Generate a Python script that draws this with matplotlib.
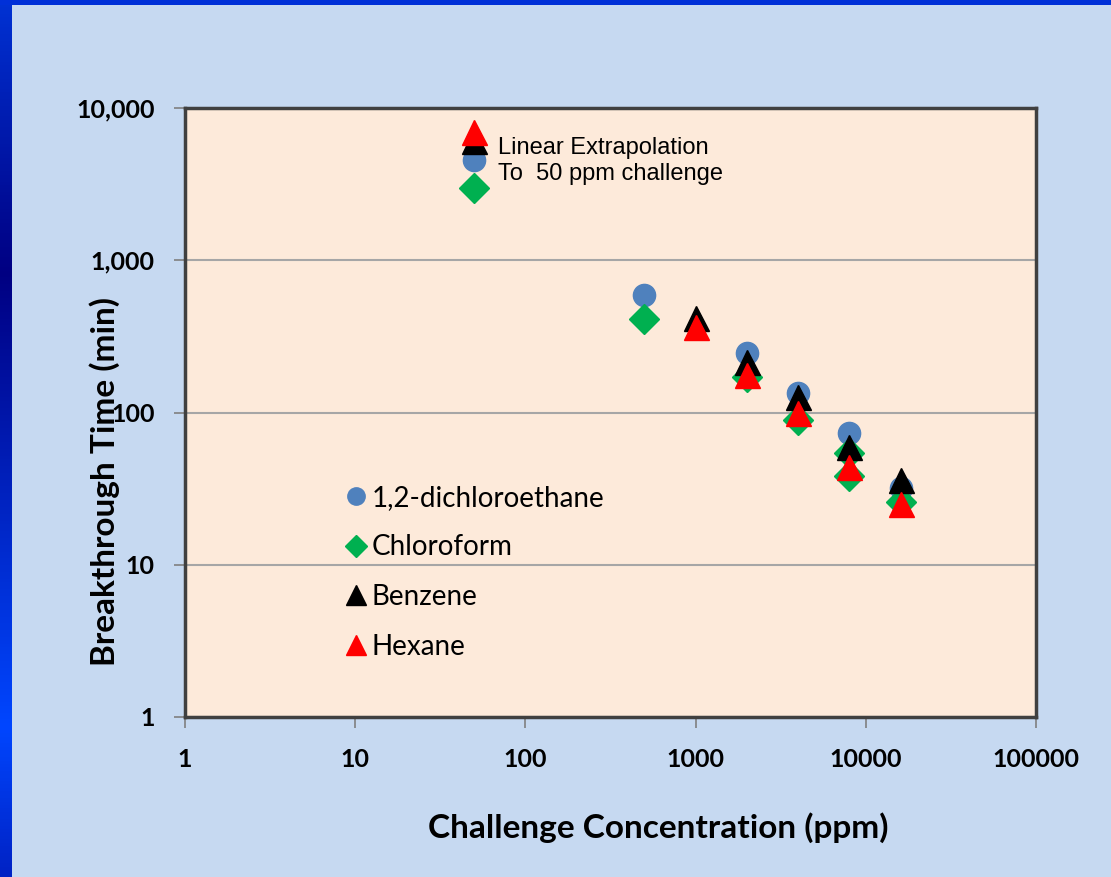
import numpy as np
import matplotlib.pyplot as plt
from matplotlib.colors import LinearSegmentedColormap

# breakthrough time (min) vs challenge concentration (ppm)
dce_ppm = [50, 500, 2000, 4000, 8000, 16000]
dce_min = [4550, 591, 246, 134, 73, 32]

chloro_ppm = [50, 500, 2000, 4000, 8000, 8000, 16000]
chloro_min = [2980, 411, 171, 89, 54, 38, 26]

benz_ppm = [50, 1000, 2000, 4000, 8000, 16000]
benz_min = [6070, 418, 215, 126, 59, 36]

hex_ppm = [50, 1000, 2000, 4000, 8000, 16000]
hex_min = [6950, 365, 176, 99, 44, 25]

x_ticks = [1, 10, 100, 1000, 10000, 100000]
x_labels = ['1', '10', '100', '1000', '10000', '100000']
y_ticks = [1, 10, 100, 1000, 10000]
y_labels = ['1', '10', '100', '1,000', '10,000']

W, H = 1111, 877
fig = plt.figure(figsize=(W / 100, H / 100), dpi=100, facecolor='#C6D9F1')

# blue frame on the left and top edge
edge = fig.add_axes([0, 0, 12 / W, 1])
cmap = LinearSegmentedColormap.from_list(
    'edge', [(0, '#0032D4'), (0.31, '#000082'), (0.83, '#0046FF'), (1, '#0022C4')])
edge.imshow(np.linspace(0, 1, 256).reshape(-1, 1), aspect='auto', cmap=cmap)
edge.axis('off')
top = fig.add_axes([0, 1 - 5 / H, 1, 5 / H])
top.set_facecolor('#0030D8')
top.set_xticks([])
top.set_yticks([])
for s in top.spines.values():
    s.set_visible(False)

ax = fig.add_axes([185 / W, 1 - 717 / H, (1036 - 185) / W, (717 - 108) / H])
ax.set_facecolor('#FDEADA')
ax.set_xscale('log')
ax.set_yscale('log')
ax.set_xlim(1, 100000)
ax.set_ylim(1, 10000)

ax.grid(axis='y', which='major', color='#A6A6A6', linewidth=1.5)
ax.set_axisbelow(True)

ax.plot(dce_ppm, dce_min, 'o', color='#4F81BD', markersize=16, linestyle='none',
        label='1,2-dichloroethane')
ax.plot(chloro_ppm, chloro_min, 'D', color='#00B050', markersize=15, linestyle='none',
        label='Chloroform')
ax.plot(benz_ppm, benz_min, '^', color='black', markersize=18, linestyle='none',
        label='Benzene')
ax.plot(hex_ppm, hex_min, '^', color='#FF0000', markersize=18, linestyle='none',
        label='Hexane')

ax.set_xticks(x_ticks, x_labels)
ax.set_yticks(y_ticks, y_labels)
ax.minorticks_off()
ax.tick_params(axis='both', length=8, width=1.2, color='#808080', pad=14)
for lab in ax.get_xticklabels() + ax.get_yticklabels():
    lab.set_fontfamily('Lato')
    lab.set_fontweight('bold')
    lab.set_fontsize(18)

for s in ax.spines.values():
    s.set_color('#404040')
    s.set_linewidth(2.5)

ax.set_xlabel('Challenge Concentration (ppm)', fontfamily='Lato', fontweight='bold',
              fontsize=24, va='top')
ax.xaxis.set_label_coords(0.556, -0.157)
ax.set_ylabel('Breakthrough Time (min)', fontfamily='Lato', fontweight='bold',
              fontsize=24)
ax.yaxis.set_label_coords(-0.076, 0.386)

ax.text(498 / W, 1 - 161 / H, 'Linear Extrapolation\nTo  50 ppm challenge',
        transform=fig.transFigure, fontfamily='Liberation Sans', fontsize=17,
        va='center', ha='left', linespacing=1.2)

ax.legend(loc='upper left', bbox_to_anchor=(0.1735, 0.404), frameon=False,
          markerscale=0.78, handlelength=0.7, handletextpad=0.2,
          labelspacing=0.85, borderpad=0, prop={'family': 'Lato', 'size': 20})

fig.savefig('out.png', dpi=100, facecolor=fig.get_facecolor())
